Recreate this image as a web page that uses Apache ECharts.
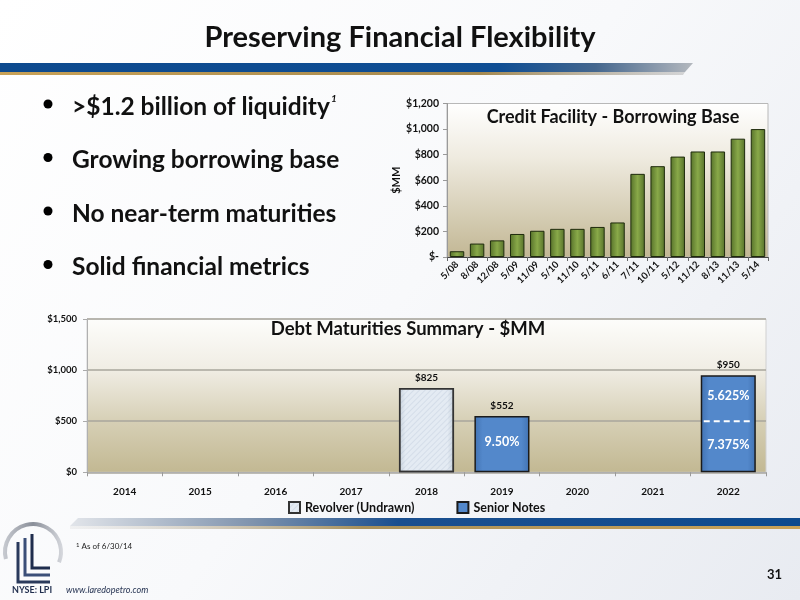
<!DOCTYPE html>
<html>
<head>
<meta charset="utf-8">
<script src="https://cdn.jsdelivr.net/npm/echarts@6/dist/echarts.min.js"></script>
<style>
html,body{margin:0;padding:0;}
#main{width:800px;height:600px;}
</style>
</head>
<body>
<div id="main"></div>
<script>
// ---- data ----
const bbCategories = ['5/08','8/08','12/08','5/09','11/09','5/10','11/10','5/11','6/11','7/11','10/11','5/12','11/12','8/13','11/13','5/14'];
const bbValues = [45,105,130,180,205,220,220,235,270,650,710,785,825,825,925,1000];
const years = ['2014','2015','2016','2017','2018','2019','2020','2021','2022'];
const revolverValues = [null,null,null,null,825,null,null,null,null];
const seniorNotesValues = [null,null,null,null,null,552,null,null,950];
const trancheYears = ['2019','2022','2022'];
const trancheLow = [0,0,500];
const trancheHigh = [552,500,950];
const trancheRates = ['9.50%','7.375%','5.625%'];
const bullets = ['>$1.2 billion of liquidity','Growing borrowing base','No near-term maturities','Solid financial metrics'];

const FONT = 'Lato, "Open Sans", sans-serif';
const chart = echarts.init(document.getElementById('main'));

const lg = (dir, stops) => new echarts.graphic.LinearGradient(dir[0],dir[1],dir[2],dir[3], stops.map(s=>({offset:s[0],color:s[1]})));

const trancheData = trancheYears.map((y,i)=>[y, trancheLow[i], trancheHigh[i], trancheRates[i]]);

const graphics = [];
// header band
graphics.push({type:'polygon', shape:{points:[[0,63],[693,63],[685,72],[0,72]]},
  style:{fill: lg([0,0,1,0],[[0,'#0d4a8e'],[0.72,'#0f4e94'],[0.86,'#45678e'],[1,'#b4b8be']])}});
graphics.push({type:'polygon', shape:{points:[[0,72],[685,72],[683,75],[0,75]]},
  style:{fill: lg([0,0,1,0],[[0,'#c9a257'],[0.7,'#a5894f'],[1,'rgba(160,160,160,0.4)']])}});
// footer band
graphics.push({type:'polygon', shape:{points:[[78,518],[800,518],[800,526],[70,526]]},
  style:{fill: lg([0,0,1,0],[[0,'#e2e5ea'],[0.25,'#7f93ad'],[0.45,'#1a4f8f'],[1,'#0d4a8e']])}});
graphics.push({type:'polygon', shape:{points:[[70,526],[800,526],[800,529],[70,529]]},
  style:{fill: lg([0,0,1,0],[[0,'rgba(200,200,200,0.2)'],[0.4,'#a8905a'],[1,'#c9a257']])}});
// logo
graphics.push({type:'arc', shape:{cx:33, cy:552, r:28, startAngle:Math.PI*0.92, endAngle:Math.PI*2.12, clockwise:true},
  style:{stroke: lg([0,0,1,0],[[0,'#c9ccd2'],[0.5,'#8a8f99'],[1,'#d8dadf']]), lineWidth:4, fill:null}});
graphics.push({type:'polyline', shape:{points:[[18,542],[18,582],[50,582]]}, style:{stroke:'#2a3a5c', lineWidth:3, fill:null}});
graphics.push({type:'polyline', shape:{points:[[25,538],[25,575],[50,575]]}, style:{stroke:'#3b4f78', lineWidth:3, fill:null}});
graphics.push({type:'polyline', shape:{points:[[32,534],[32,568],[50,568]]}, style:{stroke:'#1f2d4d', lineWidth:3, fill:null}});
// bullets
bullets.forEach((b,i)=>{
  const y = 107 + i*53.5;
  graphics.push({type:'circle', shape:{cx:48, cy:y-3, r:4.5}, style:{fill:'#000'}});
  graphics.push({type:'text', x:72, y:y, style:{
    text: i===0 ? '{m|'+b+'}{s|1}' : b,
    font:'bold 24.5px '+FONT, fill:'#111', verticalAlign:'middle',
    rich:{m:{fontSize:24.5,fontWeight:'bold',fontFamily:FONT,fill:'#111'}, s:{fontSize:10,fontStyle:'italic',fontWeight:'bold',fontFamily:FONT,fill:'#111',verticalAlign:'top',padding:[0,0,16,1]}}
  }});
});
// chart titles
graphics.push({type:'text', x:613, y:117, style:{text:'Credit Facility - Borrowing Base', font:'bold 18px '+FONT, fill:'#111', align:'center', verticalAlign:'middle'}});
graphics.push({type:'text', x:408, y:329, style:{text:'Debt Maturities Summary - $MM', font:'bold 18.5px '+FONT, fill:'#111', align:'center', verticalAlign:'middle'}});
// footnotes
graphics.push({type:'text', x:76, y:546, style:{text:'{s|1} As of 6/30/14', font:'8px '+FONT, fill:'#222', verticalAlign:'middle', rich:{s:{fontSize:6,fontFamily:FONT,fill:'#222',verticalAlign:'top'}}}});
graphics.push({type:'text', x:782, y:575, style:{text:'31', font:'bold 13px '+FONT, fill:'#111', align:'right', verticalAlign:'middle'}});
graphics.push({type:'text', x:12, y:590, style:{text:'NYSE: LPI', font:'bold 9px '+FONT, fill:'#1f2d4d', verticalAlign:'middle'}});
graphics.push({type:'text', x:66, y:590, style:{text:'www.laredopetro.com', font:'italic 9px '+FONT, fill:'#1f2d4d', verticalAlign:'middle'}});

const option = {
  animation:false,
  backgroundColor: lg([0,0,1,1],[[0,'#ffffff'],[0.5,'#f8f9fb'],[1,'#e8ebf1']]),
  textStyle:{fontFamily:FONT},
  title:{text:'Preserving Financial Flexibility', left:'center', top:18,
    textStyle:{fontSize:29, fontWeight:'bold', color:'#111', fontFamily:FONT}},
  graphic: graphics,
  legend:{
    data:[{name:'Revolver (Undrawn)', icon:'rect'},{name:'Senior Notes', icon:'rect'}], left:283, top:496, itemWidth:11, itemHeight:11, itemGap:42,
    textStyle:{fontSize:12.5, fontWeight:'bold', color:'#111', fontFamily:FONT}
  },
  grid:[
    {left:447, top:103.5, width:321, height:153.5, show:true, borderColor:'#b8b8b8', borderWidth:1,
     backgroundColor: lg([0,0,0,1],[[0,'#ffffff'],[0.35,'#efebe0'],[1,'#c2b794']])},
    {left:87, top:319, width:679, height:153.3, show:true, borderColor:'#d0d0d0', borderWidth:1,
     backgroundColor: lg([0,0,0,1],[[0,'#fdfdfb'],[0.33,'#f0ede4'],[0.67,'#d6cfb5'],[1,'#c2b892']])}
  ],
  xAxis:[
    {gridIndex:0, type:'category', data:bbCategories,
     axisLine:{lineStyle:{color:'#444', width:1}}, axisTick:{show:true, length:4, lineStyle:{color:'#666'}},
     axisLabel:{rotate:45, fontSize:9.5, fontWeight:'bold', color:'#111', margin:6, interval:0}},
    {gridIndex:1, type:'category', data:years,
     axisLine:{lineStyle:{color:'#b0b0b0', width:1}}, axisTick:{show:true, length:4, lineStyle:{color:'#999'}},
     axisLabel:{fontSize:10, fontWeight:'bold', color:'#111', margin:14, interval:0}}
  ],
  yAxis:[
    {gridIndex:0, type:'value', min:0, max:1200, interval:200,
     name:'$MM', nameLocation:'middle', nameGap:44, nameRotate:90,
     nameTextStyle:{fontSize:11, fontWeight:'bold', color:'#111'},
     axisLine:{show:true, lineStyle:{color:'#9a9a9a'}}, axisTick:{show:true, length:4, lineStyle:{color:'#999'}},
     splitLine:{show:false},
     axisLabel:{fontSize:10.5, fontWeight:'bold', color:'#111', margin:8,
       formatter:v=> v===0 ? '$-' : '$'+v.toLocaleString('en-US')}},
    {gridIndex:1, type:'value', min:0, max:1500, interval:500,
     axisLine:{show:true, lineStyle:{color:'#b0b0b0'}}, axisTick:{show:true, length:4, lineStyle:{color:'#aaa'}},
     splitLine:{show:true, lineStyle:{color:'#a8a69c', width:1.5}},
     axisLabel:{fontSize:9.5, fontWeight:'bold', color:'#111', margin:10,
       formatter:v=> '$'+v.toLocaleString('en-US')}}
  ],
  series:[
    {name:'Borrowing Base', type:'bar', xAxisIndex:0, yAxisIndex:0, data:bbValues, barWidth:'72%',
     itemStyle:{color: lg([0,0,1,0],[[0,'#56712a'],[0.5,'#89a949'],[1,'#56712a']]), borderColor:'#1e2a0c', borderWidth:1}},
    {name:'Revolver (Undrawn)', type:'bar', xAxisIndex:1, yAxisIndex:1, data:revolverValues, barWidth:'73%', barGap:'-100%',
     itemStyle:{color: lg([0,0,1,0],[[0,'#c9d3dd'],[0.12,'#e4ebf3'],[0.88,'#e4ebf3'],[1,'#c9d3dd']]), borderColor:'#333', borderWidth:1.5,
       decal:{symbol:'rect', symbolSize:1, dashArrayX:[1,0], dashArrayY:[1,3], rotation:-Math.PI/4, color:'rgba(130,150,180,0.16)'}},
     label:{show:true, position:'top', distance:5, formatter:p=>'$'+p.value, fontSize:10, fontWeight:'bold', color:'#111'}},
    {name:'Senior Notes', type:'bar', xAxisIndex:1, yAxisIndex:1, data:seniorNotesValues, barWidth:'73%', barGap:'-100%',
     itemStyle:{color: lg([0,0,1,0],[[0,'#4273b3'],[0.15,'#5388cb'],[0.85,'#5388cb'],[1,'#4273b3']]), borderColor:'#1b1b1b', borderWidth:1.5},
     label:{show:true, position:'top', distance:5, formatter:p=>'$'+p.value, fontSize:10, fontWeight:'bold', color:'#111'}},
    {name:'Tranches', type:'custom', xAxisIndex:1, yAxisIndex:1, data:trancheData, encode:{x:0, y:[1,2]}, z:10,
     renderItem:(params, api)=>{
       const idx = api.value(0);
       const low = api.value(1), high = api.value(2);
       const pLow = api.coord([idx, low]);
       const pHigh = api.coord([idx, high]);
       const w = api.size([1,0])[0]*0.73;
       const children = [{type:'text', style:{text: trancheData[params.dataIndex][3], x:pLow[0], y:(pLow[1]+pHigh[1])/2 - 2,
          align:'center', verticalAlign:'middle', fill:'#fff', font:'bold 12.5px '+FONT}}];
       if (low > 0) {
         children.push({type:'line', shape:{x1:pLow[0]-w/2+3, y1:pLow[1], x2:pLow[0]+w/2-3, y2:pLow[1]},
           style:{stroke:'#fff', lineWidth:2, lineDash:[6,4]}});
       }
       return {type:'group', children};
     }}
  ]
};
chart.setOption(option);
</script>
</body>
</html>
